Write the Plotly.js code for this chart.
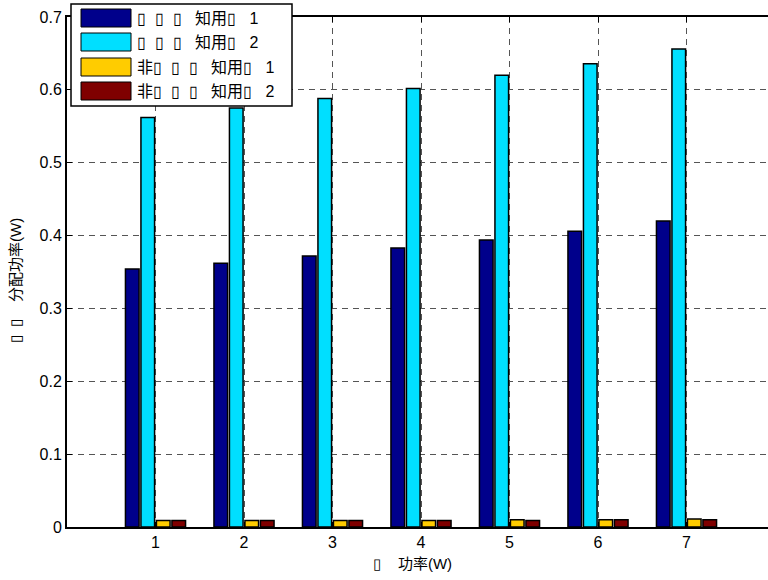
<!DOCTYPE html>
<html>
<head>
<meta charset="utf-8">
<script src="https://cdn.plot.ly/plotly-3.0.1.min.js"></script>
<style>
html,body{margin:0;padding:0;overflow:hidden;background:#fff;}
#chart{width:780px;height:580px;}
</style>
</head>
<body>
<div id="chart"></div>
<script>
// ---- data ----
const categories = [1, 2, 3, 4, 5, 6, 7];
const seriesNames = [
  "▯\u00A0\u00A0▯\u00A0\u00A0▯\u00A0\u00A0\u00A0知用▯\u00A0\u00A0\u00A01",
  "▯\u00A0\u00A0▯\u00A0\u00A0▯\u00A0\u00A0\u00A0知用▯\u00A0\u00A0\u00A02",
  "非▯\u00A0\u00A0▯\u00A0\u00A0▯\u00A0\u00A0\u00A0知用▯\u00A0\u00A0\u00A01",
  "非▯\u00A0\u00A0▯\u00A0\u00A0▯\u00A0\u00A0\u00A0知用▯\u00A0\u00A0\u00A02"
];
const user1 = [0.354, 0.362, 0.372, 0.383, 0.394, 0.406, 0.420];
const user2 = [0.562, 0.575, 0.588, 0.602, 0.620, 0.636, 0.656];
const nonUser1 = [0.009, 0.009, 0.009, 0.009, 0.010, 0.010, 0.011];
const nonUser2 = [0.009, 0.009, 0.009, 0.009, 0.009, 0.010, 0.010];
const yTicks = [0, 0.1, 0.2, 0.3, 0.4, 0.5, 0.6, 0.7];
const xTitle = "▯\u00A0\u00A0\u00A0\u00A0功率(W)\u00A0\u00A0\u00A0\u00A0\u200B";
const yTitle = "▯\u00A0\u00A0▯\u00A0\u00A0\u00A0\u00A0分配功率(W)\u00A0\u00A0\u00A0\u00A0\u200B";

// ---- style ----
const colors = ["#00008B", "#00DFFF", "#FFCC00", "#7F0000"];
const FONT = "Liberation Sans, Arial, Noto Sans CJK SC, sans-serif";
const values = [user1, user2, nonUser1, nonUser2];

const traces = values.map((v, i) => ({
  type: "bar",
  x: categories,
  y: v,
  name: seriesNames[i],
  marker: {color: colors[i], line: {color: "#000", width: 1.5}},
  showlegend: false,
  hoverinfo: "x+y"
}));

// plot area in pixels
const L = 67, T = 17, W = 708, H = 510;
const px = x => (x - L) / W;
const py = y => (T + H - y) / H;

const shapes = [];
const annotations = [];
// legend box
shapes.push({type: "rect", xref: "paper", yref: "paper",
  x0: px(71), x1: px(292), y0: py(106), y1: py(4),
  fillcolor: "#fff", line: {color: "#000", width: 1.5}, layer: "above"});
const rowTop = [9, 33, 58, 82];
seriesNames.forEach((n, i) => {
  shapes.push({type: "rect", xref: "paper", yref: "paper",
    x0: px(81), x1: px(131), y0: py(rowTop[i] + 18), y1: py(rowTop[i]),
    fillcolor: colors[i], line: {color: "#000", width: 1}, layer: "above"});
  annotations.push({xref: "paper", yref: "paper", x: px(135), y: py(rowTop[i] + 9.5),
    xanchor: "left", yanchor: "middle", showarrow: false, text: n,
    font: {family: FONT, size: 16, color: "#000"}});
});

const layout = {
  width: 780, height: 580, autosize: false,
  margin: {l: L, t: T, r: 780 - L - W, b: 580 - T - H, pad: 0},
  paper_bgcolor: "#fff", plot_bgcolor: "#fff",
  font: {family: FONT, size: 16, color: "#000"},
  barmode: "group", bargap: 0.3, bargroupgap: 0.12,
  xaxis: {
    range: [0, 8], tickvals: categories, ticktext: categories.map(String),
    showgrid: true, gridcolor: "#555", griddash: "6px,5px", gridwidth: 1,
    showline: true, linecolor: "#000", linewidth: 2, mirror: "ticks",
    ticks: "inside", ticklen: 5, tickcolor: "#000",
    zeroline: false, automargin: false,
    tickfont: {family: FONT, size: 16},
    title: {text: xTitle, font: {family: FONT, size: 15}, standoff: 8}
  },
  yaxis: {
    range: [0, 0.7], tickvals: yTicks, ticktext: yTicks.map(String),
    showgrid: true, gridcolor: "#555", griddash: "6px,5px", gridwidth: 1,
    showline: true, linecolor: "#000", linewidth: 2, mirror: "ticks",
    ticks: "inside", ticklen: 5, tickcolor: "#000",
    zeroline: false, automargin: false,
    tickfont: {family: FONT, size: 16},
    title: {text: yTitle, font: {family: FONT, size: 15}, standoff: 14}
  },
  shapes: shapes,
  annotations: annotations
};

Plotly.newPlot("chart", traces, layout, {displayModeBar: false, staticPlot: true});
</script>
</body>
</html>
